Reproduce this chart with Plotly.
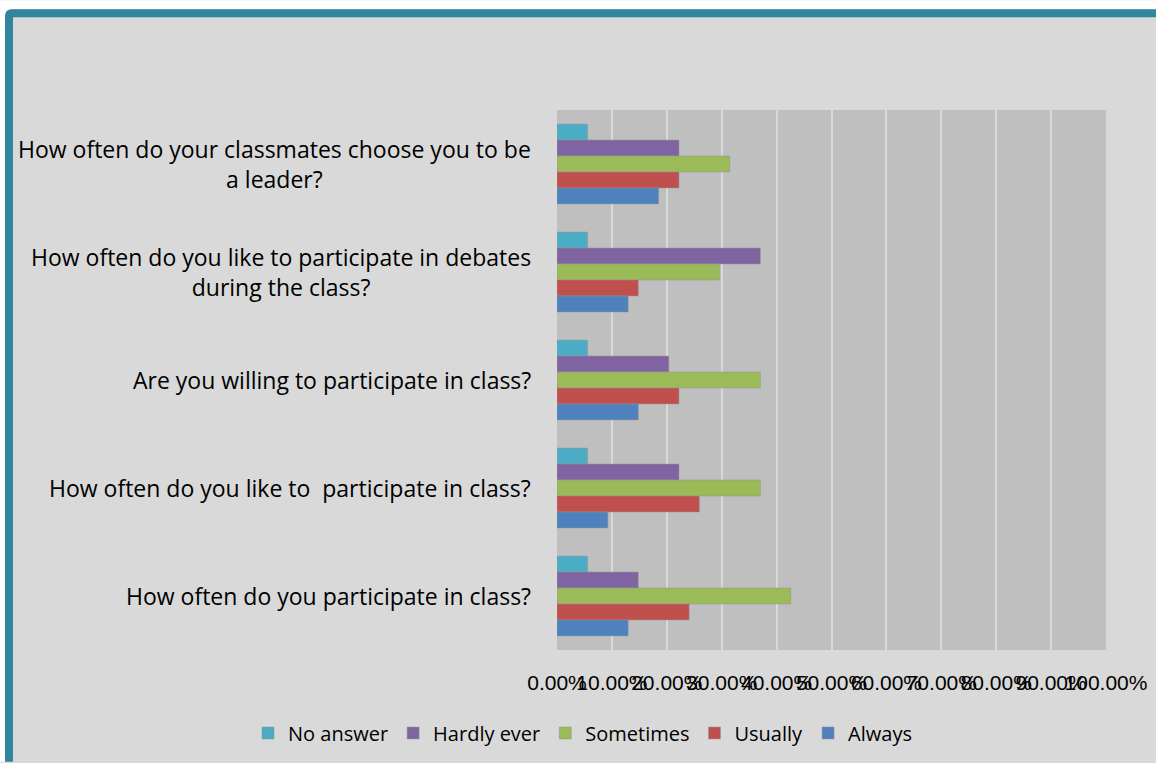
import plotly.graph_objects as go

# Survey questions (top to bottom) and answer shares per response option
questions = [
    "How often do your classmates choose you to be<br>a leader?",
    "How often do you like to participate in debates<br>during the class?",
    "Are you willing to participate in class?",
    "How often do you like to  participate in class?",
    "How often do you participate in class?",
]
no_answer = [0.0556, 0.0556, 0.0556, 0.0556, 0.0556]
hardly_ever = [0.2222, 0.3704, 0.2037, 0.2222, 0.1481]
sometimes = [0.3148, 0.2963, 0.3704, 0.3704, 0.4259]
usually = [0.2222, 0.1481, 0.2222, 0.2593, 0.2407]
always = [0.1852, 0.1296, 0.1481, 0.0926, 0.1296]

series_names = ["No answer", "Hardly ever", "Sometimes", "Usually", "Always"]
series_values = [no_answer, hardly_ever, sometimes, usually, always]
series_colors = ["#4BACC6", "#8064A2", "#9BBB59", "#C0504D", "#4F81BD"]

tick_values = [i / 10 for i in range(11)]

W, H = 1156, 763
ML, MR, MT, MB = 557, 50, 110, 112
PW, PH = W - ML - MR, H - MT - MB


def px(x):
    return (x - ML) / PW


def py(y):
    return (H - MB - y) / PH


fig = go.Figure()
for name, vals, col in zip(series_names, series_values, series_colors):
    fig.add_trace(go.Bar(
        y=questions, x=vals, name=name, orientation="h",
        marker=dict(color=col, line=dict(color="rgba(150,150,150,0.5)", width=1)),
    ))

label_font = dict(family="Open Sans, sans-serif", size=23, color="#000000")
for q in questions:
    fig.add_annotation(
        x=0, xref="paper", y=q, yref="y", text=q, showarrow=False,
        xanchor="right", yanchor="middle", align="center", xshift=-24,
        font=label_font,
    )

# Frame: white outside, teal band on top and left with a rounded corner
r = 7
white_path = (f"M {px(0)},{py(0)} L {px(W)},{py(0)} L {px(W)},{py(9)} "
              f"L {px(5 + r)},{py(9)} Q {px(5)},{py(9)} {px(5)},{py(9 + r)} "
              f"L {px(5)},{py(H)} L {px(0)},{py(H)} Z")
teal_path = (f"M {px(5)},{py(H)} L {px(5)},{py(9 + r)} Q {px(5)},{py(9)} {px(5 + r)},{py(9)} "
             f"L {px(W)},{py(9)} L {px(W)},{py(17)} L {px(13)},{py(17)} L {px(13)},{py(H)} Z")
fig.add_shape(type="path", path=white_path, xref="paper", yref="paper",
              fillcolor="#FFFFFF", line=dict(width=0), layer="above")
fig.add_shape(type="path", path=teal_path, xref="paper", yref="paper",
              fillcolor="#31859C", line=dict(width=0), layer="above")

fig.update_layout(
    width=W, height=H,
    margin=dict(l=ML, r=MR, t=MT, b=MB, pad=0),
    paper_bgcolor="#D9D9D9",
    plot_bgcolor="#BFBFBF",
    barmode="group",
    bargap=0.26,
    bargroupgap=0,
    font=dict(family="Open Sans, sans-serif", color="#000000"),
    legend=dict(
        orientation="h", x=px(248), xanchor="left", y=py(733), yanchor="middle",
        font=dict(family="Open Sans, sans-serif", size=20, color="#000000"),
        bgcolor="rgba(0,0,0,0)",
    ),
    xaxis=dict(
        range=[0, 1], tickvals=tick_values, tickformat=".2%", tickangle=0,
        showgrid=True, gridcolor="#D9D9D9", gridwidth=2, zeroline=False,
        showline=False, ticks="", ticklabelstandoff=18,
        tickfont=dict(family="Liberation Sans, Arial, sans-serif", size=21, color="#000000"),
        fixedrange=True, automargin=False,
    ),
    yaxis=dict(
        autorange="reversed", showticklabels=False, ticks="",
        showgrid=False, zeroline=False, showline=False, fixedrange=True,
        automargin=False,
    ),
)

fig.write_html(
    "out.html",
    post_script="document.documentElement.style.overflow='hidden';"
                "document.body.style.margin='0';",
)
